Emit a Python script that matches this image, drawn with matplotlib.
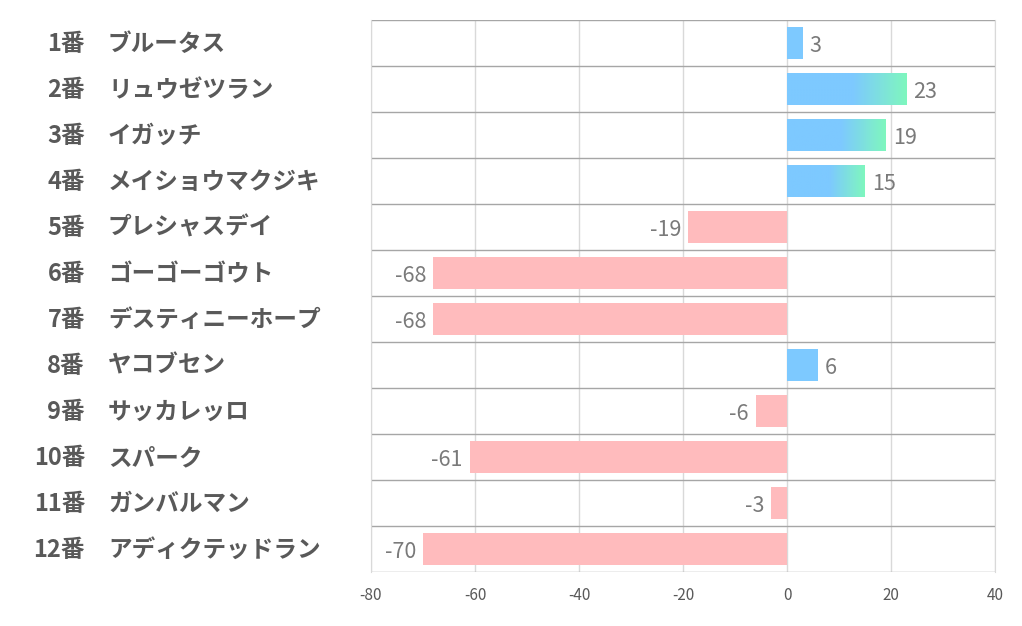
import numpy as np
import matplotlib
matplotlib.use('Agg')
import matplotlib.pyplot as plt
import matplotlib.transforms as mtransforms
from matplotlib.colors import to_rgb

plt.rcParams['font.family'] = ['Noto Sans CJK JP', 'DejaVu Sans']

numbers = ['1番', '2番', '3番', '4番', '5番', '6番', '7番', '8番', '9番', '10番', '11番', '12番']
names = ['ブルータス', 'リュウゼツラン', 'イガッチ', 'メイショウマクジキ', 'プレシャスデイ',
         'ゴーゴーゴウト', 'デスティニーホープ', 'ヤコブセン', 'サッカレッロ', 'スパーク',
         'ガンバルマン', 'アディクテッドラン']
values = [3, 23, 19, 15, -19, -68, -68, 6, -6, -61, -3, -70]
xticks = [-80, -60, -40, -20, 0, 20, 40]

blue = '#7DC9FF'
green = '#7FF7BE'
pink = '#FFBBBD'
bar_h = 0.68

fig = plt.figure(figsize=(10.22, 6.26), dpi=100)
ax = fig.add_axes([371 / 1022, 1 - 572 / 626, 624 / 1022, 552 / 626])

n = len(values)
ypos = np.arange(n)

for y, v in zip(ypos, values):
    if v < 0:
        ax.barh(y, v, height=bar_h, color=pink, zorder=2)
    elif v < 10:
        ax.barh(y, v, height=bar_h, color=blue, zorder=2)
    else:
        # blue that fades into green toward the end of the bar
        t = np.linspace(0, 1, 200)
        f = np.clip((t - 0.55) / 0.45, 0, 1)
        c0, c1 = np.array(to_rgb(blue)), np.array(to_rgb(green))
        img = (c0[None, :] * (1 - f[:, None]) + c1[None, :] * f[:, None])[None, :, :]
        ax.imshow(img, extent=(0, v, y + bar_h / 2, y - bar_h / 2),
                  aspect='auto', zorder=2, interpolation='bilinear')

for y, v in zip(ypos, values):
    if v >= 0:
        ax.annotate(str(v), (v, y), xytext=(5, -2), textcoords='offset points',
                    ha='left', va='center', fontsize=15.5, color='#7a7a7a')
    else:
        ax.annotate(str(v), (v, y), xytext=(-5, -2), textcoords='offset points',
                    ha='right', va='center', fontsize=15.5, color='#7a7a7a')

ax.set_xlim(-80, 40)
ax.set_ylim(n - 0.5, -0.5)
ax.set_xticks(xticks)
ax.set_xticklabels([str(t) for t in xticks], fontsize=11, color='#595959')
ax.set_yticks([])
ax.tick_params(axis='x', length=0, pad=11)
ax.grid(axis='x', color='#d9d9d9', linewidth=1, zorder=0)
ax.set_axisbelow(True)

for b in np.arange(n + 1) - 0.5:
    ax.axhline(b, color='#a6a6a6', linewidth=1, zorder=1)

for s in ['top', 'bottom']:
    ax.spines[s].set_visible(False)
for s in ['left', 'right']:
    ax.spines[s].set_color('#d9d9d9')

trans = mtransforms.blended_transform_factory(fig.transFigure, ax.transData)
for y, num, name in zip(ypos, numbers, names):
    ax.text(85 / 1022, y + 0.02, num, transform=trans, ha='right', va='center',
            fontsize=17, fontweight='bold', color='#595959')
    ax.text(108 / 1022, y + 0.02, name, transform=trans, ha='left', va='center',
            fontsize=17, fontweight='bold', color='#595959')

fig.savefig('out.png', dpi=100)
